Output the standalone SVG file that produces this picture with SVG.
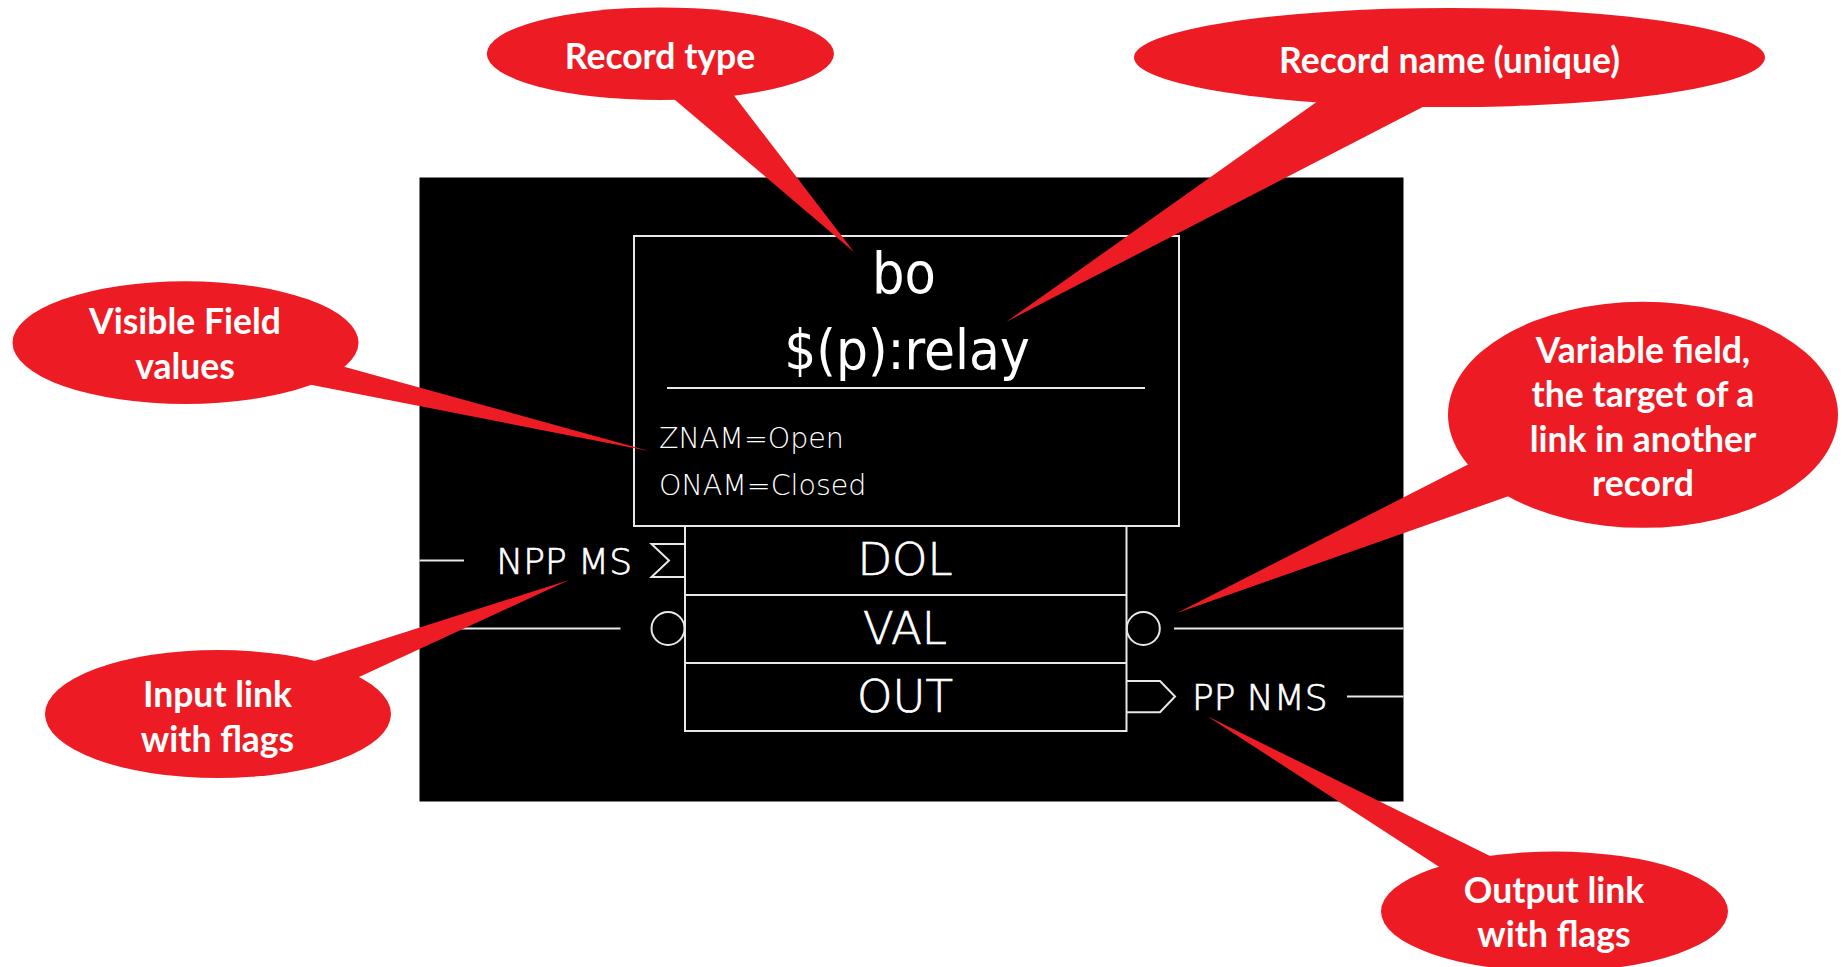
<svg xmlns="http://www.w3.org/2000/svg" width="1843" height="967" viewBox="0 0 1843 967">
<style>
.ln{stroke:#e8e8e8;stroke-width:2;fill:none}
.big{font-family:"DejaVu Sans Condensed","DejaVu Sans",sans-serif;fill:#fff;text-anchor:middle}
.fld{font-family:"DejaVu Sans",sans-serif;font-weight:200;fill:#fff}
.lbl{font-family:"DejaVu Sans",sans-serif;font-weight:200;fill:#fff;stroke:#fff;stroke-width:0.7}
.co{fill:#ED1C24}
.ct{font-family:Lato,"Liberation Sans",sans-serif;font-weight:bold;font-size:35.5px;fill:#fff;text-anchor:middle}
</style>
<rect width="1843" height="967" fill="#fff"/>
<rect id="canvas" x="419.5" y="177.5" width="984" height="624" fill="#000"/>
<g id="connectors">
<line class="ln" x1="419.5" y1="560.5" x2="464" y2="560.5"/>
<line class="ln" x1="419.5" y1="628.5" x2="620.5" y2="628.5"/>
<line class="ln" x1="1174" y1="628.5" x2="1403.5" y2="628.5"/>
<line class="ln" x1="1347" y1="696.5" x2="1403.5" y2="696.5"/>
</g>
<g id="record">
<rect class="ln" x="634" y="236" width="545" height="290"/>
<line class="ln" x1="667" y1="388" x2="1145" y2="388"/>
<text class="big" x="904" y="292.5" font-size="57">bo</text>
<text class="big" x="907" y="368.5" font-size="56">$(p):relay</text>
<text class="fld" x="659" y="447.5" font-size="28.5">ZNAM=Open</text>
<text class="fld" x="659" y="495" font-size="28.5">ONAM=Closed</text>
</g>
<g id="fields">
<rect class="ln" x="685" y="526" width="441.5" height="205"/>
<line class="ln" x1="685" y1="595" x2="1126.5" y2="595"/>
<line class="ln" x1="685" y1="663" x2="1126.5" y2="663"/>
<text class="lbl" x="905" y="575" font-size="45" text-anchor="middle">DOL</text>
<text class="lbl" x="905" y="644" font-size="45" text-anchor="middle">VAL</text>
<text class="lbl" x="905" y="711.5" font-size="45" text-anchor="middle">OUT</text>
</g>
<g id="input-link">
<polyline class="ln" points="685,544 651.5,544 669,560.5 651.5,577 685,577"/>
<text class="lbl" x="632" y="573.5" font-size="36" text-anchor="end">NPP MS</text>
</g>
<g id="val-ports">
<circle class="ln" cx="668" cy="628.5" r="16.5"/>
<circle class="ln" cx="1143.3" cy="628.5" r="16.5"/>
</g>
<g id="output-link">
<polyline class="ln" points="1126.5,681 1160,681 1175,696.5 1160,712.3 1126.5,712.3"/>
<text class="lbl" x="1192" y="709.5" font-size="36">PP NMS</text>
</g>
<g id="callout-record-type">
<ellipse class="co" cx="660.4" cy="53.7" rx="173.6" ry="46.3"/>
<polygon class="co" points="674.5,99.5 854,252 733.6,95 660.4,53.7"/>
<text class="ct" x="660" y="69">Record type</text>
</g>
<g id="callout-record-name">
<ellipse class="co" cx="1449.5" cy="57.5" rx="315.5" ry="49.6"/>
<polygon class="co" points="1316.6,102 1006,322 1423.7,106.5 1449.5,57.5"/>
<text class="ct" x="1449.5" y="73">Record name (unique)</text>
</g>
<g id="callout-visible-fields">
<ellipse class="co" cx="185.5" cy="342.6" rx="173" ry="61.3"/>
<polygon class="co" points="345,367 649,451 312,385 185.5,342.6"/>
<text class="ct" x="185" y="334">Visible Field</text>
<text class="ct" x="185" y="378.8">values</text>
</g>
<g id="callout-input-link">
<ellipse class="co" cx="218" cy="714" rx="173" ry="64"/>
<polygon class="co" points="314.7,661 569,580 359,677 218,714"/>
<text class="ct" x="217.5" y="707">Input link</text>
<text class="ct" x="217.5" y="751.5">with flags</text>
</g>
<g id="callout-variable-field">
<ellipse class="co" cx="1643" cy="414.8" rx="195" ry="113"/>
<polygon class="co" points="1469,464 1177,613 1509,496 1643,414.8"/>
<text class="ct" x="1643" y="362.5">Variable field,</text>
<text class="ct" x="1643" y="407">the target of a</text>
<text class="ct" x="1643" y="451.8">link in another</text>
<text class="ct" x="1643" y="496.4">record</text>
</g>
<g id="callout-output-link">
<ellipse class="co" cx="1554.5" cy="911.5" rx="173.5" ry="60"/>
<polygon class="co" points="1439.4,867 1207,716 1490,856 1554.5,911.5"/>
<text class="ct" x="1554" y="902.7">Output link</text>
<text class="ct" x="1554" y="946.7">with flags</text>
</g>
</svg>
